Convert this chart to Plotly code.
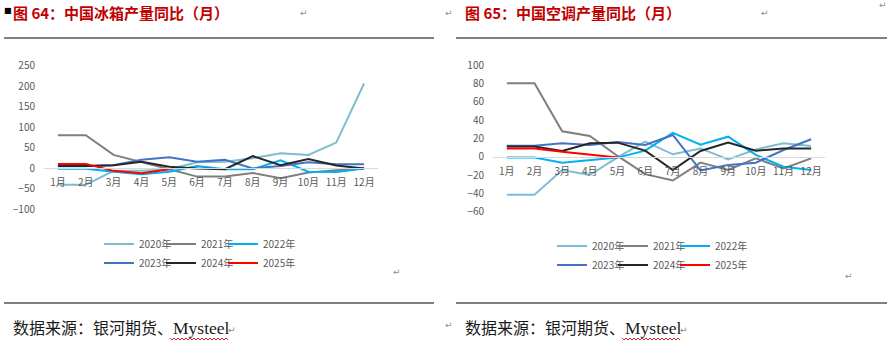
import plotly.graph_objects as go

# Month categories shared by both charts
months = ["1月", "2月", "3月", "4月", "5月", "6月", "7月", "8月", "9月", "10月", "11月", "12月"]
years = ["2020年", "2021年", "2022年", "2023年", "2024年", "2025年"]
colors = ["#7CBDD3", "#7F7F7F", "#00B0F0", "#4472C4", "#262626", "#FF0000"]

# Refrigerator output, year-on-year change (%)
fridge_2020 = [-41, -41, -7, -7, -3, 14, 15, 24, 36, 32, 62, 206]
fridge_2021 = [80, 80, 32, 15, -3, -21, -21, -12, -25, -11, -5, 0]
fridge_2022 = [-2, -2, -9, -15, -9, 5, -3, -3, 19, -9, -10, -1]
fridge_2023 = [5, 5, 7, 20, 26, 15, 20, -1, 5, 14, 9, 9]
fridge_2024 = [5, 5, 7, 15, 3, -1, -3, 29, 7, 22, 6, -1]
fridge_2025 = [10, 10, -7, -13, -3]

# Air-conditioner output, year-on-year change (%)
ac_2020 = [-41.5, -41.5, -14.5, -20, -0.7, 16.4, 2.6, 9, -3, 8, 14.6, 11.7]
ac_2021 = [80, 80, 27.7, 22.6, 0.8, -19, -26, -6.5, -14.5, -1.8, -12.7, -1.8]
ac_2022 = [-1, -1, -6.5, -3.6, -1, 6.6, 26, 13, 21.8, 1.9, -11, -14.5]
ac_2023 = [12, 12, 14.6, 12.7, 16, 12.7, 23.7, -15, -9, -6.5, 7.3, 19]
ac_2024 = [11, 11, 6.2, 14.6, 15.3, 6.6, -14.5, 6.2, 15.3, 6.6, 9, 9]
ac_2025 = [9, 9, 5.5, 1.9, -1]

fridge_series = [fridge_2020, fridge_2021, fridge_2022, fridge_2023, fridge_2024, fridge_2025]
ac_series = [ac_2020, ac_2021, ac_2022, ac_2023, ac_2024, ac_2025]

W, H = 891, 343


def px_x(p):
    return p / W


def px_y(p):
    return 1 - p / H


TICK_FONT = dict(family="Noto Sans CJK SC, Microsoft YaHei, sans-serif", size=10, color="#595959")
LEG_FONT = dict(family="Noto Sans CJK SC, Microsoft YaHei, sans-serif", size=10, color="#595959")

fig = go.Figure()

# Legend entry anchors (left edge of each entry, row centre), three per row
panels = [
    dict(series=fridge_series, xa="x", ya="y", cols=[99, 161, 223], rows=[244, 263], first=1),
    dict(series=ac_series, xa="x2", ya="y2", cols=[552, 613, 675], rows=[246, 265], first=7),
]

legend_layouts = {}
for panel in panels:
    for i, (name, vals, col) in enumerate(zip(years, panel["series"], colors)):
        idx = panel["first"] + i
        key = "legend" if idx == 1 else f"legend{idx}"
        legend_layouts[key] = dict(
            orientation="h", xanchor="left", yanchor="middle", font=LEG_FONT,
            bgcolor="rgba(0,0,0,0)", itemclick=False, itemdoubleclick=False,
            x=px_x(panel["cols"][i % 3]), y=px_y(panel["rows"][i // 3]),
        )
        fig.add_trace(go.Scatter(
            x=months[:len(vals)], y=vals, name=name, mode="lines",
            line=dict(color=col, width=2),
            xaxis=panel["xa"], yaxis=panel["ya"], legend=key,
            hoverinfo="skip",
        ))
fig.update_layout(**legend_layouts)

# Plot-area extents
left_dom_x = [px_x(44), px_x(378)]
left_dom_y = [px_y(209), px_y(65.5)]
left_range = [-100, 250]
right_dom_x = [px_x(493), px_x(825)]
right_dom_y = [px_y(211.7), px_y(65)]
right_range = [-60, 100]


def zero_pos(dom, rng):
    return dom[0] + (0 - rng[0]) / (rng[1] - rng[0]) * (dom[1] - dom[0])


common_x = dict(
    type="category", categoryorder="array", categoryarray=months,
    range=[-0.5, 11.5], showgrid=False, zeroline=False,
    showline=True, linecolor="#D9D9D9", linewidth=1,
    ticks="", tickfont=TICK_FONT, ticklabelstandoff=5, anchor="free",
    fixedrange=True, automargin=False,
)
common_y = dict(
    showgrid=False, zeroline=False, showline=False, ticks="",
    tickfont=TICK_FONT, ticklabelstandoff=8, fixedrange=True, automargin=False,
)

fig.update_layout(
    xaxis=dict(common_x, domain=left_dom_x, position=zero_pos(left_dom_y, left_range)),
    yaxis=dict(common_y, domain=left_dom_y, range=left_range, dtick=50, anchor="x"),
    xaxis2=dict(common_x, domain=right_dom_x, position=zero_pos(right_dom_y, right_range)),
    yaxis2=dict(common_y, domain=right_dom_y, range=right_range, dtick=20, anchor="x2"),
)

TITLE_FONT = dict(family="Noto Sans CJK SC, Microsoft YaHei, sans-serif", size=15, color="#C00000")
MARK_FONT = dict(family="DejaVu Sans, sans-serif", size=9, color="#8C8C8C")
SRC_FONT = dict(family="Liberation Serif, Noto Sans CJK SC, serif", size=16, color="#1A1A1A")


def title_text(num, body):
    return (f"<span style='text-spacing-trim:space-all'><b>图 {num}：{body}（月）</b></span>")


annotations = [
    dict(text="■", x=px_x(2), y=px_y(11), font=dict(family="DejaVu Sans", size=8, color="#000000")),
    dict(text=title_text(64, "中国冰箱产量同比"), x=px_x(11), y=px_y(13), font=TITLE_FONT),
    dict(text=title_text(65, "中国空调产量同比"), x=px_x(463), y=px_y(13), font=TITLE_FONT),
    dict(text="数据来源：银河期货、<span style='font-size:17.5px'>Mysteel</span>",
         x=px_x(11), y=px_y(328), font=SRC_FONT),
    dict(text="数据来源：银河期货、<span style='font-size:17.5px'>Mysteel</span>",
         x=px_x(463), y=px_y(328), font=SRC_FONT),
    dict(text="↵", x=px_x(298), y=px_y(13), font=MARK_FONT),
    dict(text="↵", x=px_x(443), y=px_y(13), font=MARK_FONT),
    dict(text="↵", x=px_x(759), y=px_y(13), font=MARK_FONT),
    dict(text="↵", x=px_x(877), y=px_y(5), font=MARK_FONT),
    dict(text="↵", x=px_x(391), y=px_y(272), font=MARK_FONT),
    dict(text="↵", x=px_x(843), y=px_y(276), font=MARK_FONT),
    dict(text="↵", x=px_x(226), y=px_y(330), font=MARK_FONT),
    dict(text="↵", x=px_x(443), y=px_y(325), font=MARK_FONT),
    dict(text="↵", x=px_x(678), y=px_y(330), font=MARK_FONT),
]
for a in annotations:
    a.update(xref="paper", yref="paper", xanchor="left", yanchor="middle", showarrow=False)
fig.update_layout(annotations=annotations)


def rule(x0, x1, y):
    return dict(type="line", xref="paper", yref="paper", x0=px_x(x0), x1=px_x(x1),
                y0=px_y(y), y1=px_y(y), line=dict(color="#000000", width=1.2))


def squiggle(x0, x1, y):
    pts = []
    x, up = x0, True
    while x <= x1:
        pts.append(f"{px_x(x):.5f},{px_y(y - 1 if up else y + 1):.5f}")
        x += 2
        up = not up
    return dict(type="path", xref="paper", yref="paper",
                path="M" + " L".join(pts), line=dict(color="#E02020", width=1))


fig.update_layout(shapes=[
    rule(4, 434, 38), rule(456, 887, 38),
    rule(4, 434, 303), rule(456, 887, 303),
    squiggle(170, 228, 339), squiggle(622, 680, 339),
])

fig.update_layout(
    width=W, height=H, margin=dict(l=0, r=0, t=0, b=0, autoexpand=False),
    paper_bgcolor="#FFFFFF", plot_bgcolor="#FFFFFF",
    showlegend=True, hovermode=False,
)

fig.write_html("out.html", config={"displayModeBar": False})
